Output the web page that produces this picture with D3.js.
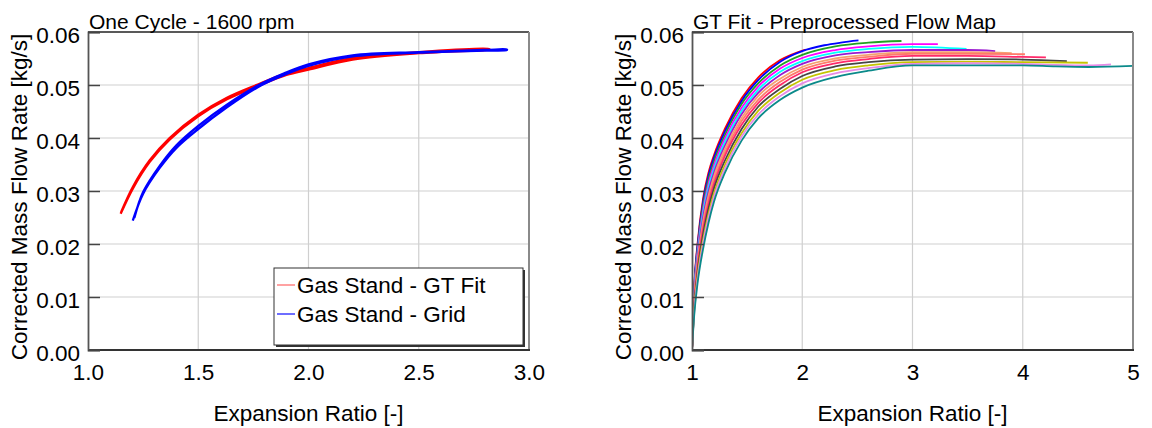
<!DOCTYPE html>
<html><head><meta charset="utf-8">
<script src="https://cdn.jsdelivr.net/npm/d3@7"></script>
<style>
body{margin:0;background:#fff}
text{font-family:"Liberation Sans",Arial,Helvetica,sans-serif;fill:#000}
</style>
</head><body>
<svg id="chart" width="1152" height="428"></svg>
<script>
// ---------- data ----------
const leftTitle = "One Cycle - 1600 rpm";
const rightTitle = "GT Fit - Preprocessed Flow Map";
const xLabel = "Expansion Ratio [-]";
const yLabel = "Corrected Mass Flow Rate [kg/s]";
const legendLabels = ["Gas Stand - GT Fit", "Gas Stand - Grid"];
const leftXTicks = [1.0, 1.5, 2.0, 2.5, 3.0];
const rightXTicks = [1, 2, 3, 4, 5];
const yTicks = [0, 0.01, 0.02, 0.03, 0.04, 0.05, 0.06];

// Left: one engine cycle (loop: outbound then return)
const gtFitER  = [1.148,1.205,1.28,1.37,1.5,1.63,1.77,1.9,2.0,2.2,2.5,2.8,2.82,
                  2.82,2.5,2.2,2.0,1.9,1.77,1.63,1.5,1.37,1.28,1.205,1.15];
const gtFitMFR = [0.0257,0.0306,0.0355,0.0397,0.0441,0.0473,0.0498,0.0519,0.0529,0.0548,0.0560,0.0566,0.0567,
                  0.0568,0.0562,0.0551,0.0532,0.0522,0.0501,0.0476,0.0444,0.0400,0.0358,0.0309,0.0260];
const gridER   = [1.203,1.25,1.326,1.4,1.5,1.63,1.77,1.89,2.0,2.2,2.5,2.8,2.9,
                  2.9,2.8,2.5,2.2,2.0,1.89,1.77,1.63,1.5,1.4,1.326,1.25,1.21];
const gridMFR  = [0.0244,0.0295,0.0344,0.0381,0.0417,0.0458,0.0496,0.0519,0.0536,0.0554,0.0561,0.0565,0.0566,
                  0.0567,0.0566,0.0562,0.0556,0.0539,0.0522,0.0499,0.0463,0.0423,0.0386,0.0348,0.0298,0.0249];

// Right: speed lines of the preprocessed map
const mapColors = ["#ff0000","#0000ff","#22a022","#ff00ff","#00ffff","#9a1ad0","#f4a070",
                   "#ff7a6a","#ff2a6a","#454545","#c4c400","#e68ae6","#0a8a8a"];
const mapER = [
  [1.0,1.02,1.05,1.1,1.15,1.2,1.3,1.45,1.6,1.8,2.03],
  [1.0,1.02,1.05,1.1,1.15,1.2,1.3,1.45,1.6,1.8,2.0,2.2,2.35,2.51],
  [1.0,1.02,1.05,1.1,1.15,1.2,1.3,1.45,1.6,1.8,2.0,2.3,2.6,2.9],
  [1.0,1.02,1.05,1.1,1.15,1.2,1.3,1.45,1.6,1.8,2.0,2.3,2.6,3.0,3.23],
  [1.0,1.02,1.05,1.1,1.15,1.2,1.3,1.45,1.6,1.8,2.0,2.3,2.6,3.0,3.49],
  [1.0,1.02,1.05,1.1,1.15,1.2,1.3,1.45,1.6,1.8,2.0,2.3,2.6,3.0,3.5,3.75],
  [1.0,1.02,1.05,1.1,1.15,1.2,1.3,1.45,1.6,1.8,2.0,2.3,2.6,3.0,3.5,3.9],
  [1.0,1.02,1.05,1.1,1.15,1.2,1.3,1.45,1.6,1.8,2.0,2.3,2.6,3.0,3.5,4.02],
  [1.0,1.02,1.05,1.1,1.15,1.2,1.3,1.45,1.6,1.8,2.0,2.3,2.6,3.0,3.5,4.0,4.21],
  [1.0,1.02,1.05,1.1,1.15,1.2,1.3,1.45,1.6,1.8,2.0,2.3,2.6,3.0,3.5,4.0,4.4],
  [1.0,1.02,1.05,1.1,1.15,1.2,1.3,1.45,1.6,1.8,2.0,2.3,2.6,3.0,3.5,4.0,4.59],
  [1.0,1.02,1.05,1.1,1.15,1.2,1.3,1.45,1.6,1.8,2.0,2.3,2.6,3.0,3.5,4.0,4.3,4.6,4.8],
  [1.0,1.02,1.05,1.1,1.15,1.2,1.3,1.45,1.6,1.8,2.0,2.3,2.6,3.0,3.5,4.0,4.3,4.6,5.0]
];
const mapMFR = [
  [0,0.0120,0.0200,0.0285,0.0335,0.0368,0.0418,0.0475,0.0514,0.0547,0.0567],
  [0,0.0117,0.0196,0.0279,0.0329,0.0363,0.0413,0.0470,0.0509,0.0544,0.0564,0.0575,0.0580,0.0584],
  [0,0.0112,0.0190,0.0272,0.0322,0.0356,0.0406,0.0464,0.0503,0.0537,0.0557,0.0573,0.0580,0.0583],
  [0,0.0108,0.0184,0.0264,0.0314,0.0349,0.0400,0.0457,0.0497,0.0531,0.0551,0.0566,0.0573,0.0577,0.0577],
  [0,0.0104,0.0178,0.0257,0.0307,0.0342,0.0393,0.0451,0.0491,0.0525,0.0545,0.0561,0.0568,0.0572,0.0568],
  [0,0.0099,0.0172,0.0249,0.0299,0.0335,0.0386,0.0445,0.0485,0.0519,0.0540,0.0556,0.0562,0.0566,0.0566,0.0564],
  [0,0.0095,0.0166,0.0241,0.0291,0.0328,0.0380,0.0438,0.0479,0.0512,0.0534,0.0550,0.0557,0.0562,0.0562,0.0560],
  [0,0.0090,0.0160,0.0234,0.0284,0.0320,0.0373,0.0432,0.0472,0.0506,0.0529,0.0546,0.0553,0.0559,0.0559,0.0558],
  [0,0.0086,0.0154,0.0226,0.0276,0.0313,0.0367,0.0425,0.0466,0.0500,0.0524,0.0541,0.0549,0.0555,0.0555,0.0553,0.0552],
  [0,0.0080,0.0146,0.0217,0.0267,0.0305,0.0358,0.0417,0.0459,0.0493,0.0517,0.0535,0.0543,0.0548,0.0549,0.0548,0.0545],
  [0,0.0075,0.0139,0.0207,0.0257,0.0296,0.0350,0.0409,0.0451,0.0486,0.0510,0.0528,0.0537,0.0543,0.0544,0.0543,0.0542],
  [0,0.0071,0.0133,0.0200,0.0250,0.0289,0.0343,0.0403,0.0444,0.0479,0.0503,0.0522,0.0532,0.0540,0.0541,0.0540,0.0538,0.0537,0.0539],
  [0,0.0065,0.0125,0.0190,0.0240,0.0280,0.0335,0.0395,0.0437,0.0472,0.0495,0.0515,0.0527,0.0537,0.0537,0.0537,0.0535,0.0534,0.0536]
];

// ---------- drawing ----------
const svg = d3.select("#chart");
const plotTop = 32, plotBottom = 350;
const panels = [
  {left: 88, right: 529, domain: [1, 3], ticks: leftXTicks, fmt: d3.format(".1f"), title: leftTitle},
  {left: 692, right: 1133, domain: [1, 5], ticks: rightXTicks, fmt: d3.format("d"), title: rightTitle}
];

function drawPanel(p, idx) {
  const x = d3.scaleLinear().domain(p.domain).range([p.left, p.right]);
  const y = d3.scaleLinear().domain([0, 0.06]).range([plotBottom, plotTop]);
  const g = svg.append("g");

  // grid
  g.append("g").selectAll("line").data(p.ticks.slice(1, -1)).join("line")
    .attr("x1", d => x(d)).attr("x2", d => x(d)).attr("y1", plotTop).attr("y2", plotBottom)
    .attr("stroke", "#cfcfcf").attr("stroke-width", 1.2);
  g.append("g").selectAll("line").data(yTicks.slice(1, -1)).join("line")
    .attr("x1", p.left).attr("x2", p.right).attr("y1", d => y(d)).attr("y2", d => y(d))
    .attr("stroke", "#cfcfcf").attr("stroke-width", 1.2);

  // clip
  const clipId = "clip" + idx;
  svg.append("clipPath").attr("id", clipId).append("rect")
    .attr("x", p.left).attr("y", plotTop - 2).attr("width", p.right - p.left).attr("height", plotBottom - plotTop + 2);
  const plot = g.append("g").attr("clip-path", `url(#${clipId})`);

  if (idx === 0) {
    const loop = d3.line().x(d => x(d[0])).y(d => y(d[1])).curve(d3.curveCatmullRom.alpha(0.5));
    const redPts = gtFitER.map((v, i) => [v, gtFitMFR[i]]);
    const bluePts = gridER.map((v, i) => [v, gridMFR[i]]);
    plot.append("path").attr("d", loop(redPts)).attr("fill", "none")
      .attr("stroke", "#ff0000").attr("stroke-width", 2.3);
    plot.append("path").attr("d", loop(bluePts)).attr("fill", "none")
      .attr("stroke", "#0000ff").attr("stroke-width", 2.3);
  } else {
    const line = d3.line().x(d => x(d[0])).y(d => y(d[1])).curve(d3.curveMonotoneX);
    mapER.forEach((ers, i) => {
      const pts = ers.map((v, j) => [v, mapMFR[i][j]]);
      plot.append("path").attr("d", line(pts)).attr("fill", "none")
        .attr("stroke", mapColors[i]).attr("stroke-width", 1.8);
    });
  }

  // frame
  g.append("line").attr("x1", p.left).attr("x2", p.right).attr("y1", plotTop).attr("y2", plotTop)
    .attr("stroke", "#222").attr("stroke-width", 1.5);
  g.append("line").attr("x1", p.right).attr("x2", p.right).attr("y1", plotTop).attr("y2", plotBottom)
    .attr("stroke", "#8a8a8a").attr("stroke-width", 2);
  g.append("line").attr("x1", p.left).attr("x2", p.right + 1).attr("y1", plotBottom).attr("y2", plotBottom)
    .attr("stroke", "#333").attr("stroke-width", 1.8);

  // y axis
  const ya = g.append("g").attr("transform", `translate(${p.left},0)`)
    .call(d3.axisLeft(y).tickValues(yTicks).tickFormat(d3.format(".2f")).tickSize(-12).tickPadding(8));
  ya.select(".domain").attr("stroke", "#555").attr("stroke-width", 1.8);
  ya.selectAll(".tick line").attr("stroke", "#444").attr("stroke-width", 1.5);
  ya.selectAll(".tick text").attr("font-size", 22.5).attr("dy", "0.48em")
    .attr("font-family", "Liberation Sans, Arial, sans-serif").attr("fill", "#000");

  // x axis
  const xa = g.append("g").attr("transform", `translate(0,${plotBottom})`)
    .call(d3.axisBottom(x).tickValues(p.ticks).tickFormat(p.fmt).tickSize(0).tickPadding(14));
  xa.select(".domain").remove();
  xa.selectAll(".tick text").attr("font-size", 22.5)
    .attr("font-family", "Liberation Sans, Arial, sans-serif").attr("fill", "#000");

  // titles & labels
  g.append("text").attr("x", p.left + 1).attr("y", 29).attr("font-size", 21).text(p.title);
  g.append("text").attr("x", (p.left + p.right) / 2).attr("y", 421).attr("text-anchor", "middle")
    .attr("font-size", 22.5).text(xLabel);
  g.append("text").attr("transform", `translate(${p.left - 61},197) rotate(-90)`)
    .attr("text-anchor", "middle").attr("font-size", 22.5).text(yLabel);

  if (idx === 0) {
    const lx = 274, ly = 268, lw = 249, lh = 77;
    g.append("rect").attr("x", lx + 2).attr("y", ly + 2).attr("width", lw).attr("height", lh)
      .attr("fill", "#333");
    g.append("rect").attr("x", lx).attr("y", ly).attr("width", lw).attr("height", lh)
      .attr("fill", "#fff").attr("stroke", "#333").attr("stroke-width", 1);
    const lcol = ["#ff7070", "#2020ff"];
    legendLabels.forEach((t, i) => {
      const yy = ly + 17 + i * 29;
      g.append("line").attr("x1", lx + 3).attr("x2", lx + 21).attr("y1", yy).attr("y2", yy)
        .attr("stroke", lcol[i]).attr("stroke-width", 1.3);
      g.append("text").attr("x", lx + 23).attr("y", yy + 8).attr("font-size", 22.5).text(t);
    });
  }
}
panels.forEach(drawPanel);
</script>
</body></html>
